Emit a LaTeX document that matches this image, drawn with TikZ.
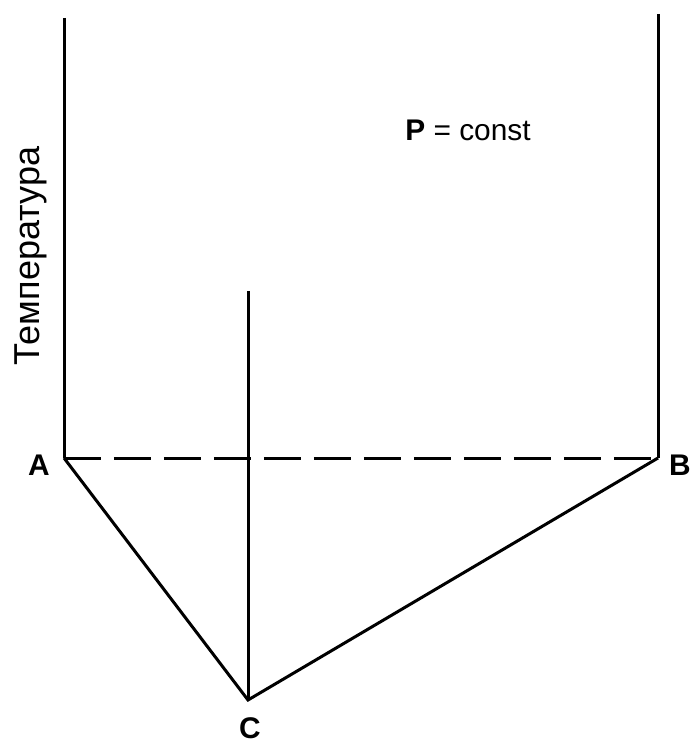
\documentclass[tikz,border=0pt]{standalone}
\usepackage{fontspec}
\setmainfont{Liberation Sans}
\usetikzlibrary{positioning}

\begin{document}
\begin{tikzpicture}[x=0.02cm, y=-0.02cm, line width=0.06cm,
  lbl/.style={font=\fontsize{17}{20}\selectfont, inner sep=0pt},
  dsh/.style={dash pattern=on 0.74cm off 0.26cm}]
\useasboundingbox (0,0) rectangle (693,742);
% corner points
\coordinate (A) at (64,458);
\coordinate (B) at (658,458);
\coordinate (C) at (248,700);
\coordinate (At) at (64,18);
\coordinate (Bt) at (658,14);
\coordinate (Ct) at (248,291);
% verticals
\draw (At) -- (A);
\draw (Bt) -- (B);
\draw (Ct) -- (C);
% tie line and liquidus
\draw[dsh] (A) -- (B);
\draw (A) -- (C) -- (B);
% labels
\node[lbl, font=\fontsize{17}{20}\selectfont\bfseries] (la) at (39,465) {A};
\node[lbl, font=\fontsize{17}{20}\selectfont\bfseries] (lb) at (680,465) {B};
\node[lbl, font=\fontsize{17}{20}\selectfont\bfseries] (lc) at (250,728) {C};
\node[lbl] (pc) at (468,130) {\textbf{P} = const};
\node[lbl, font=\fontsize{20.5}{24}\selectfont, rotate=90] (temp) at (31,256) {Температура};
\end{tikzpicture}
\end{document}
